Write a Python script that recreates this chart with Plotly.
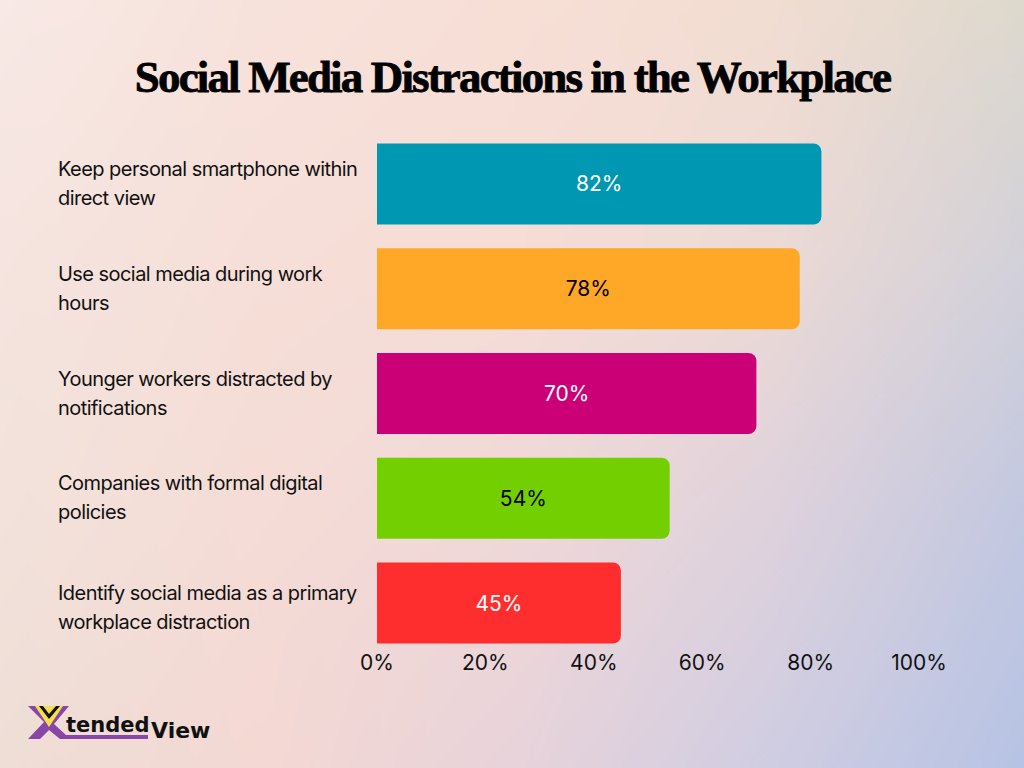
import base64
import struct
import zlib

import numpy as np
import plotly.graph_objects as go

W = 1024
H = 768

categories = [
    "Keep personal smartphone within direct view",
    "Use social media during work hours",
    "Younger workers distracted by notifications",
    "Companies with formal digital policies",
    "Identify social media as a primary workplace distraction",
]
label_top = [
    "Keep personal smartphone within",
    "Use social media during work",
    "Younger workers distracted by",
    "Companies with formal digital",
    "Identify social media as a primary",
]
label_bottom = [
    "direct view",
    "hours",
    "notifications",
    "policies",
    "workplace distraction",
]
values = [82, 78, 70, 54, 45]
bar_colors = ["#0097b2", "#ffa726", "#cb0077", "#74cf00", "#ff2e2e"]
text_colors = ["#ffffff", "#000000", "#ffffff", "#000000", "#ffffff"]
tick_vals = [0, 20, 40, 60, 80, 100]
tick_text = ["0%", "20%", "40%", "60%", "80%", "100%"]

# background colours, rows top to bottom
bg_grid = [
    ["#f8e9e6", "#f7e2db", "#f7dfd6", "#f2ddd2", "#ded9cd"],
    ["#f5e4df", "#f6dfd8", "#f6ddd6", "#eddad5", "#d3d1d9"],
    ["#f2e2db", "#f5dcd6", "#f0d8d8", "#dfd2dc", "#c3c8e0"],
    ["#eeded6", "#f4d8d3", "#e8d3da", "#d0cde2", "#b7c3e4"],
]


def make_background():
    grid = np.array([[[int(c[i:i + 2], 16) for i in (1, 3, 5)] for c in row] for row in bg_grid], dtype=float)
    h, w = 192, 256
    ys = np.linspace(0, grid.shape[0] - 1, h)
    xs = np.linspace(0, grid.shape[1] - 1, w)
    y0 = np.minimum(ys.astype(int), grid.shape[0] - 2)
    x0 = np.minimum(xs.astype(int), grid.shape[1] - 2)
    fy = (ys - y0)[:, None, None]
    fx = (xs - x0)[None, :, None]
    a = grid[y0][:, x0]
    b = grid[y0][:, x0 + 1]
    c = grid[y0 + 1][:, x0]
    d = grid[y0 + 1][:, x0 + 1]
    img = (a * (1 - fx) + b * fx) * (1 - fy) + (c * (1 - fx) + d * fx) * fy
    img = img.round().astype(np.uint8)
    raw = b"".join(b"\x00" + img[r].tobytes() for r in range(h))

    def chunk(tag, data):
        body = tag + data
        return struct.pack(">I", len(data)) + body + struct.pack(">I", zlib.crc32(body))

    png = b"\x89PNG\r\n\x1a\n"
    png += chunk(b"IHDR", struct.pack(">IIBBBBB", w, h, 8, 2, 0, 0, 0))
    png += chunk(b"IDAT", zlib.compress(raw))
    png += chunk(b"IEND", b"")
    return "data:image/png;base64," + base64.b64encode(png).decode()


def px(x):
    return x / W


def py(y):
    return 1 - y / H


def path(points):
    return "M " + " L ".join(f"{px(x)},{py(y)}" for x, y in points) + " Z"


fig = go.Figure()
fig.add_trace(go.Bar(
    x=values,
    y=categories,
    orientation="h",
    marker=dict(color=bar_colors, cornerradius=8, line=dict(width=0)),
    text=[f"{v}%" for v in values],
    textposition="inside",
    insidetextanchor="middle",
    textangle=0,
    textfont=dict(family="Inter", size=21, color=text_colors),
    hoverinfo="skip",
))

annotations = [dict(
    text="Social Media Distractions in the Workplace",
    xref="paper", yref="paper", x=px(512), y=py(77),
    xanchor="center", yanchor="middle", showarrow=False,
    font=dict(family="Liberation Serif", size=45, color="#000000", weight="bold"),
)]
for cat, top, bottom in zip(categories, label_top, label_bottom):
    # the last label sits a little lower than the others in the original
    drop = 5 if cat == categories[-1] else 0
    annotations.append(dict(text=top, xref="paper", yref="y", x=px(56), y=cat, yshift=15 - drop, align="left",
                            xanchor="left", yanchor="middle", showarrow=False,
                            font=dict(family="Inter", size=20, color="#111111")))
    annotations.append(dict(text=bottom, xref="paper", yref="y", x=px(56), y=cat, yshift=-14 - drop, align="left",
                            xanchor="left", yanchor="middle", showarrow=False,
                            font=dict(family="Inter", size=20, color="#111111")))

# logo
annotations.append(dict(text="tended", xref="paper", yref="paper", x=px(63.5), y=py(725),
                        xanchor="left", yanchor="middle", showarrow=False,
                        font=dict(family="DejaVu Sans", size=21, color="#111111", weight="bold")))
annotations.append(dict(text="View", xref="paper", yref="paper", x=px(148.5), y=py(730),
                        xanchor="left", yanchor="middle", showarrow=False,
                        font=dict(family="DejaVu Sans", size=22, color="#111111", weight="bold")))

logo_purple = [(28, 706), (69, 706), (54, 724), (66, 735), (148, 735), (148, 739), (60, 739),
               (49, 730), (40, 739), (28, 739), (44, 722)]
logo_yellow = [(35, 706), (63, 706), (49, 727)]
logo_black = [(39, 706), (43, 706), (49, 714), (56, 706), (60, 706), (49, 719)]
shapes = [
    dict(type="path", xref="paper", yref="paper", path=path(logo_purple), fillcolor="#8a45a8", line=dict(width=0)),
    dict(type="path", xref="paper", yref="paper", path=path(logo_yellow), fillcolor="#f4e04d", line=dict(width=0)),
    dict(type="path", xref="paper", yref="paper", path=path(logo_black), fillcolor="#111111", line=dict(width=0)),
]

fig.update_layout(
    width=W,
    height=H,
    margin=dict(l=0, r=0, t=0, b=0, autoexpand=False),
    showlegend=False,
    paper_bgcolor="#f5dcd5",
    plot_bgcolor="rgba(0,0,0,0)",
    bargap=0.226,
    annotations=annotations,
    shapes=shapes,
    images=[dict(source=make_background(), xref="paper", yref="paper", x=0, y=1,
                 sizex=1, sizey=1, sizing="stretch", xanchor="left", yanchor="top", layer="below")],
    xaxis=dict(
        domain=[px(377), px(919)],
        range=[0, 100],
        tickvals=tick_vals,
        ticktext=tick_text,
        showgrid=False,
        zeroline=False,
        showline=False,
        ticks="",
        ticklabelstandoff=-7,
        tickfont=dict(family="Inter", size=21, color="#111111"),
    ),
    yaxis=dict(
        domain=[py(655.4), py(131.6)],
        autorange="reversed",
        showticklabels=False,
        showgrid=False,
        zeroline=False,
        showline=False,
        ticks="",
    ),
)

# plotly has no letter spacing, the title and labels are set tight in the original
post = """
document.body.style.margin = '0';
var texts = document.querySelectorAll('.annotation-text');
texts.forEach(function (t, i) {
    if (i === 0) {
        t.style.letterSpacing = '-1.85px';
        t.style.stroke = '#000';
        t.style.strokeWidth = '0.8px';
    } else if (i <= 10) {
        t.style.letterSpacing = '-0.55px';
    }
});
"""
fig.write_html("out.html", post_script=post, config={"displayModeBar": False})
